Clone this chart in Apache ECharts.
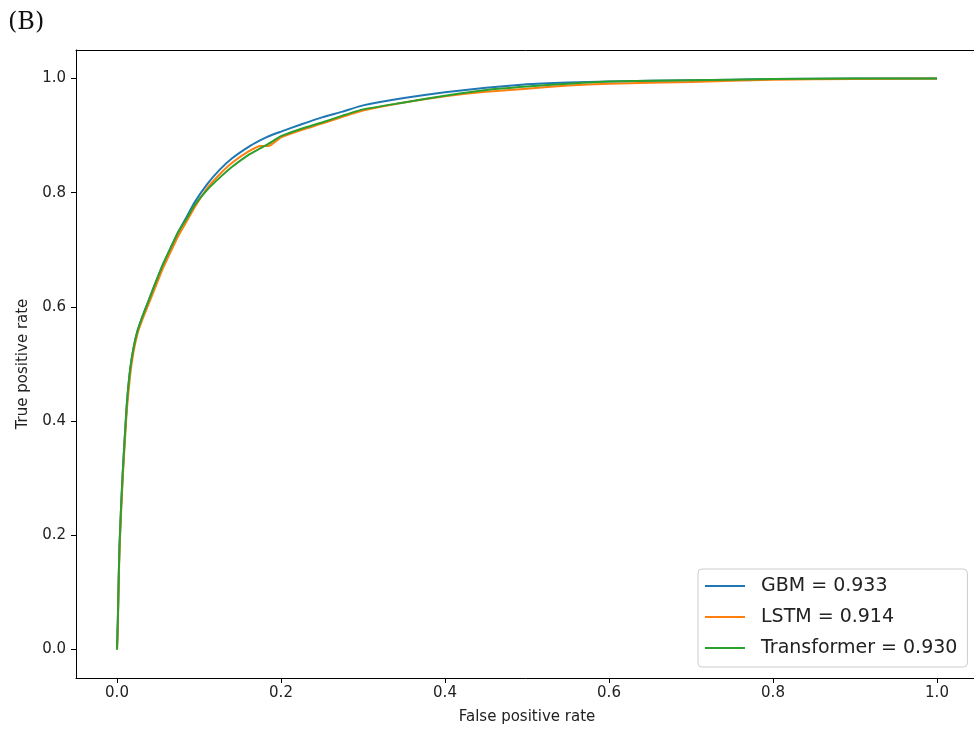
<!DOCTYPE html>
<html lang="en">
<head>
    <meta charset="UTF-8">
    <title>ROC curves (B)</title>
    <script src="https://cdn.jsdelivr.net/npm/echarts@6/dist/echarts.min.js"></script>
    <style>
        html, body { margin: 0; padding: 0; background: #fff; }
        #chart { width: 974px; height: 730px; }
    </style>
</head>
<body>
<div id="chart"></div>
<script>
    // false positive rate grid shared by the three curves
    const fpr = [0, 0.001, 0.002, 0.003, 0.005, 0.007, 0.009, 0.012, 0.016, 0.020,
        0.025, 0.031, 0.038, 0.045, 0.055, 0.065, 0.075, 0.085, 0.095, 0.11,
        0.125, 0.14, 0.16, 0.175, 0.185, 0.20, 0.225, 0.25, 0.275, 0.30,
        0.35, 0.40, 0.45, 0.50, 0.55, 0.60, 0.70, 0.80, 0.90, 1.0];

    const gbmTpr = [0, 0.05, 0.12, 0.18, 0.25, 0.31, 0.36, 0.43, 0.49, 0.527,
        0.558, 0.583, 0.609, 0.635, 0.671, 0.702, 0.732, 0.758, 0.784, 0.815,
        0.840, 0.860, 0.880, 0.892, 0.899, 0.907, 0.920, 0.932, 0.942, 0.953,
        0.966, 0.976, 0.984, 0.990, 0.993, 0.995, 0.997, 0.999, 1.0, 1.0];

    const lstmTpr = [0, 0.04, 0.11, 0.17, 0.24, 0.30, 0.35, 0.42, 0.48, 0.52,
        0.553, 0.578, 0.603, 0.628, 0.664, 0.695, 0.725, 0.75, 0.775, 0.808,
        0.832, 0.852, 0.872, 0.882, 0.882, 0.897, 0.910, 0.921, 0.933, 0.944,
        0.958, 0.969, 0.977, 0.982, 0.988, 0.991, 0.994, 0.998, 0.999, 1.0];

    const transformerTpr = [0, 0.05, 0.12, 0.18, 0.25, 0.31, 0.36, 0.43, 0.49, 0.527,
        0.558, 0.583, 0.609, 0.635, 0.671, 0.702, 0.732, 0.755, 0.779, 0.805,
        0.826, 0.845, 0.866, 0.878, 0.886, 0.899, 0.912, 0.923, 0.935, 0.946,
        0.958, 0.970, 0.980, 0.986, 0.991, 0.995, 0.997, 0.999, 1.0, 1.0];

    const seriesNames = ['GBM = 0.933', 'LSTM = 0.914', 'Transformer = 0.930'];
    const tickValues = [0, 0.2, 0.4, 0.6, 0.8, 1.0];

    function pairs(ys) {
        return fpr.map((x, i) => [x, ys[i]]);
    }

    const chart = echarts.init(document.getElementById('chart'));

    const lineStyle = { color: '#000', width: 1 };

    // main axes: spine + outward ticks + labels
    const axisCommon = {
        type: 'value',
        min: -0.05,
        max: 1.05,
        splitLine: { show: false },
        axisLine: { show: true, onZero: false, lineStyle: lineStyle },
        axisTick: { show: true, length: 5, lineStyle: lineStyle, customValues: tickValues },
        axisLabel: {
            customValues: tickValues,
            formatter: v => v.toFixed(1),
            color: '#222',
            fontFamily: 'DejaVu Sans',
            fontSize: 15
        },
        nameLocation: 'middle',
        nameTextStyle: { color: '#222', fontFamily: 'DejaVu Sans', fontSize: 15 }
    };

    // opposite spines only (top and right)
    const frameAxis = {
        type: 'value',
        min: -0.05,
        max: 1.05,
        splitLine: { show: false },
        axisLine: { show: true, onZero: false, lineStyle: lineStyle },
        axisTick: { show: false },
        axisLabel: { show: false }
    };

    const lineSeries = (name, ys, color) => ({
        name: name,
        type: 'line',
        data: pairs(ys),
        symbol: 'none',
        showSymbol: false,
        smooth: 0.15,
        lineStyle: { width: 2, color: color },
        itemStyle: { color: color },
        animation: false
    });

    const option = {
        animation: false,
        title: {
            text: '(B)',
            left: 3,
            top: 6,
            textStyle: { fontFamily: 'DejaVu Serif', fontWeight: 'normal', fontSize: 24, color: '#111' }
        },
        grid: {
            left: 76, top: 50, right: -4, bottom: 52,
            outerBoundsMode: 'none'
        },
        legend: {
            orient: 'vertical',
            left: 698,
            top: 569,
            data: seriesNames,
            icon: 'rect',
            itemWidth: 40,
            itemHeight: 2,
            itemGap: 9,
            padding: [6, 10, 8, 7],
            backgroundColor: '#fff',
            borderColor: '#ccc',
            borderWidth: 1,
            borderRadius: 4,
            textStyle: {
                fontFamily: 'DejaVu Sans',
                fontSize: 19,
                lineHeight: 22,
                color: '#222',
                padding: [0, 0, 0, 11]
            }
        },
        xAxis: [
            Object.assign({}, axisCommon, {
                position: 'bottom',
                name: 'False positive rate',
                nameGap: 32
            }),
            Object.assign({}, frameAxis, { position: 'top' })
        ],
        yAxis: [
            Object.assign({}, axisCommon, {
                position: 'left',
                name: 'True positive rate',
                nameGap: 45,
                axisLabel: Object.assign({}, axisCommon.axisLabel, { margin: 10 })
            }),
            Object.assign({}, frameAxis, { position: 'right' })
        ],
        series: [
            lineSeries(seriesNames[0], gbmTpr, '#1f77b4'),
            lineSeries(seriesNames[1], lstmTpr, '#ff7f0e'),
            lineSeries(seriesNames[2], transformerTpr, '#2ca02c')
        ]
    };

    chart.setOption(option);
</script>
</body>
</html>
